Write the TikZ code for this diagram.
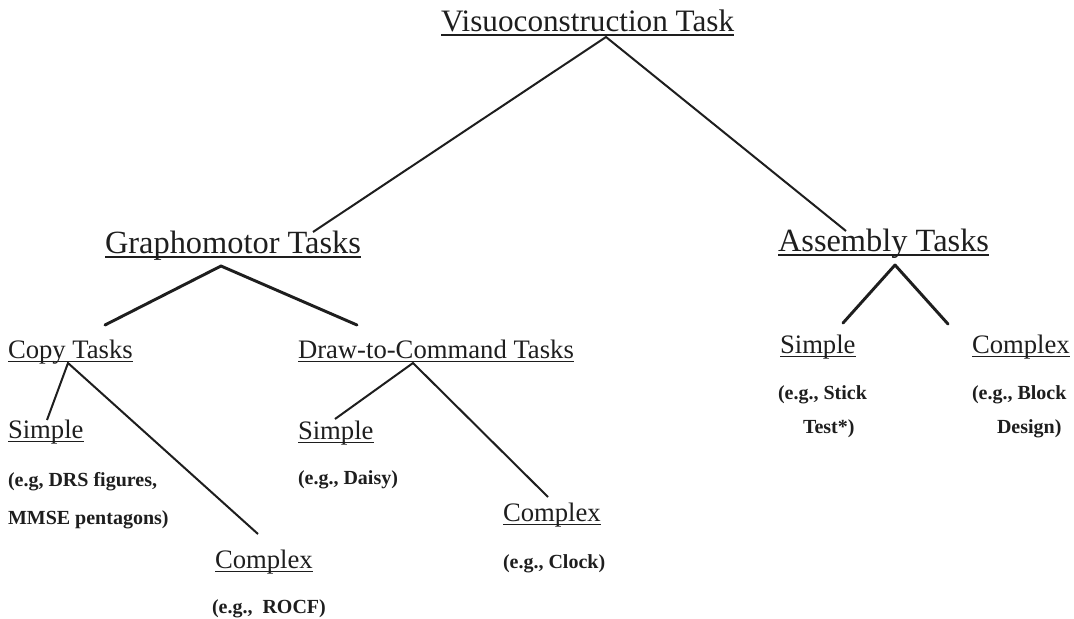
\documentclass[tikz,border=0pt]{standalone}
\usepackage{fontspec}
\setmainfont{Liberation Serif}
\definecolor{ink}{HTML}{1E1E1E}
% underline drawn at a fixed depth below the baseline, crossing descenders
\newcommand\ulbox[1]{\setbox0\hbox{#1}\rlap{\rule[-0.15em]{\wd0}{0.055em}}\box0}
\begin{document}
\begin{tikzpicture}[x=0.75pt,y=-0.75pt,
  every node/.style={inner sep=0pt,outer sep=0pt,anchor=base west,text=ink},
  headA/.style={font=\fontsize{23.4}{28}\selectfont},
  headB/.style={font=\fontsize{24.3}{29}\selectfont},
  headC/.style={font=\fontsize{20}{24}\selectfont},
  example/.style={font=\fontsize{15}{18}\selectfont\bfseries},
  thinline/.style={draw=ink,line width=1.5pt},
  thickline/.style={draw=ink,line width=2.2pt,line cap=round,line join=round}]
\useasboundingbox (0,0) rectangle (1074,618);

% ---- labels ----
\node[headA] (root) at (441,31) {\ulbox{Visuoconstruction Task}};
\node[headB] (grapho) at (105,253) {\ulbox{Graphomotor Tasks}};
\node[headB] (assem) at (778,251) {\ulbox{Assembly Tasks}};

\node[headC] (copy) at (8,358) {\ulbox{Copy Tasks}};
\node[headC] (dtc) at (298,358) {\ulbox{Draw-to-Command Tasks}};

\node[headC] (csimple) at (8,438) {\ulbox{Simple}};
\node[example] (csimpleex1) at (8,486) {(e.g, DRS figures,};
\node[example] (csimpleex2) at (8,524) {MMSE pentagons)};
\node[headC] (ccomplex) at (215,568) {\ulbox{Complex}};
\node[example] (ccomplexex) at (212,613) {(e.g.,\ \ ROCF)};

\node[headC] (dsimple) at (298,439) {\ulbox{Simple}};
\node[example] (dsimpleex) at (298,484) {(e.g., Daisy)};
\node[headC] (dcomplex) at (503,521) {\ulbox{Complex}};
\node[example] (dcomplexex) at (503,568) {(e.g., Clock)};

\node[headC] (asimple) at (780,353) {\ulbox{Simple}};
\node[example] (asimpleex1) at (778,399) {(e.g., Stick};
\node[example] (asimpleex2) at (803,433) {Test*)};
\node[headC] (acomplex) at (972,353) {\ulbox{Complex}};
\node[example] (acomplexex1) at (972,399) {(e.g., Block};
\node[example] (acomplexex2) at (997,433) {Design)};

% ---- branch points ----
\coordinate (rootJ) at (606,37);
\coordinate (graphoTop) at (313,232);
\coordinate (assemTop) at (846,231);
\coordinate (graphoJ) at (221,266);
\coordinate (copyTop) at (105,325);
\coordinate (dtcTop) at (357,325);
\coordinate (assemJ) at (895,265);
\coordinate (asimpleTop) at (843,323);
\coordinate (acomplexTop) at (948,324);
\coordinate (copyJ) at (68,363);
\coordinate (csimpleTop) at (47,420);
\coordinate (ccomplexTop) at (258,534);
\coordinate (dtcJ) at (413,363);
\coordinate (dsimpleTop) at (335,419);
\coordinate (dcomplexTop) at (548,497);

% ---- connectors ----
\draw[thinline] (graphoTop) -- (rootJ) -- (assemTop);
\draw[thickline] (copyTop) -- (graphoJ) -- (dtcTop);
\draw[thickline] (asimpleTop) -- (assemJ) -- (acomplexTop);
\draw[thinline] (csimpleTop) -- (copyJ) -- (ccomplexTop);
\draw[thinline] (dsimpleTop) -- (dtcJ) -- (dcomplexTop);
\end{tikzpicture}
\end{document}
